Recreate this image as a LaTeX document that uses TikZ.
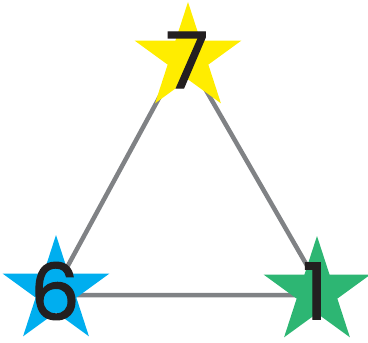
\documentclass[tikz,border=0pt]{standalone}
\usepackage{fontspec}
\setmainfont{Poppins}
\newfontfamily\numfont[FakeBold=1.6]{Poppins}
\usetikzlibrary{shapes.geometric}
\definecolor{syellow}{HTML}{FFED00}
\definecolor{sblue}{HTML}{00AEEF}
\definecolor{sgreen}{HTML}{2DB673}
\definecolor{lgray}{HTML}{808285}
\definecolor{ink}{HTML}{231F20}
\tikzset{
  starbox/.style={star, star points=5, star point ratio=2.618, minimum size=112pt, inner sep=0pt, outer sep=0pt, draw=none},
  edgeline/.style={draw=lgray, line width=4.5pt},
  num/.style={inner sep=0pt, text=ink, font=\numfont\fontsize{78}{78}\selectfont}
}
\begin{document}
\begin{tikzpicture}[x=1pt,y=-1pt]
\useasboundingbox (0,0) rectangle (368,343);
\coordinate (ta) at (184,52);
\coordinate (tb) at (52,295);
\coordinate (tc) at (324,295);
\draw[edgeline] (ta) -- (tb) -- (tc) -- cycle;
\node[starbox, fill=syellow] (s7) at (188,58) {};
\node[starbox, fill=sblue] (s6) at (56,291) {};
\node[starbox, fill=sgreen] (s1) at (317,292) {};
\node[num] (n7) at (187,60) {7};
\node[num] (n6) at (55,291) {6};
\node[num] (n1) at (315,291) {1};
\end{tikzpicture}
\end{document}
